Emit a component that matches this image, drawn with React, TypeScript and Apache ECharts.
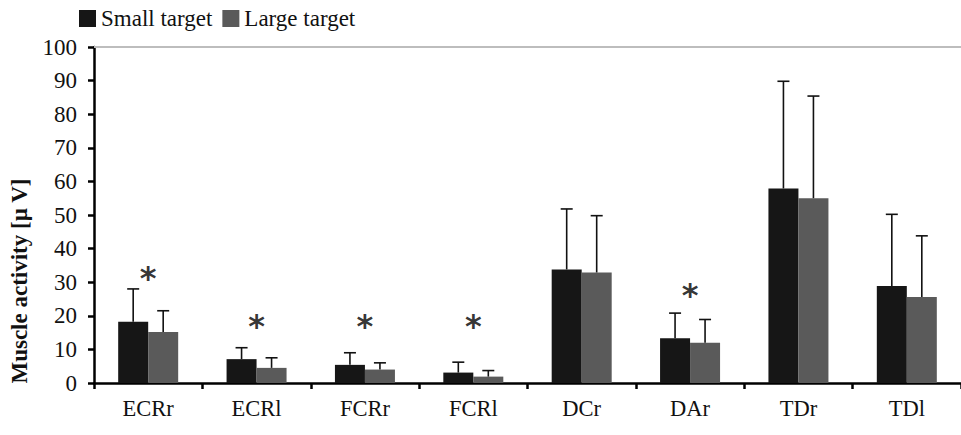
import React, { useEffect, useRef } from "react";
import * as echarts from "echarts";

const categories = ["ECRr", "ECRl", "FCRr", "FCRl", "DCr", "DAr", "TDr", "TDl"];
const smallMean = [18.2, 7.1, 5.4, 3.1, 33.8, 13.3, 57.9, 28.9];
const smallErrTop = [28, 10.5, 9, 6.2, 51.8, 20.8, 89.8, 50.2];
const largeMean = [15.2, 4.5, 4, 1.9, 32.9, 12, 55, 25.6];
const largeErrTop = [21.5, 7.5, 6, 3.7, 49.8, 18.9, 85.4, 43.8];
const starLevels: (number | null)[] = [31.3, 17, 17, 17, null, 26.2, null, null];
const yTicks = [0, 10, 20, 30, 40, 50, 60, 70, 80, 90, 100];

const SERIF = "'Liberation Serif', 'Times New Roman', serif";
const BAR_W = 30;

export default function App() {
  const ref = useRef<HTMLDivElement>(null);
  useEffect(() => {
    document.body.style.margin = "0";
    const chart = echarts.init(ref.current!, null, { renderer: "svg" });
    const errSeries = (name: string, mean: number[], top: number[], side: number) => ({
      type: "custom",
      name: name + " err",
      silent: true,
      z: 5,
      data: categories.map((_, i) => [i, mean[i], top[i]]),
      encode: { x: 0, y: [1, 2] },
      renderItem: (params: any, api: any) => {
        const idx = api.value(0);
        const base = api.coord([idx, api.value(1)]);
        const top = api.coord([idx, api.value(2)]);
        const x = base[0] + side * (BAR_W / 2);
        const style = { stroke: "#111", lineWidth: 1.6 };
        return {
          type: "group",
          children: [
            { type: "line", shape: { x1: x, y1: base[1], x2: x, y2: top[1] }, style },
            { type: "line", shape: { x1: x - 6, y1: top[1], x2: x + 6, y2: top[1] }, style },
          ],
        };
      },
    });
    chart.setOption({
      animation: false,
      grid: { left: 94, right: -2, top: 47, bottom: 52, containLabel: false },
      legend: {
        left: 74,
        top: 2,
        itemWidth: 17,
        itemHeight: 17,
        itemGap: 10,
        icon: "rect",
        textStyle: { fontFamily: SERIF, fontSize: 23, color: "#111" },
        data: ["Small target", "Large target"],
      },
      xAxis: {
        type: "category",
        data: categories,
        axisLine: { lineStyle: { color: "#000", width: 2.5 } },
        axisTick: { show: true, length: 6, lineStyle: { color: "#000", width: 2.5 } },
        axisLabel: { fontFamily: SERIF, fontSize: 22.5, color: "#111", margin: 14 },
      },
      yAxis: {
        type: "value",
        min: yTicks[0],
        max: yTicks[yTicks.length - 1],
        interval: 10,
        axisLine: { show: true, lineStyle: { color: "#000", width: 2.5 } },
        axisTick: { show: true, length: 6, lineStyle: { color: "#000", width: 2.5 } },
        splitLine: { show: false },
        axisLabel: { fontFamily: SERIF, fontSize: 23, color: "#111", margin: 17 },
      },
      graphic: [
        {
          type: "text",
          x: 19,
          y: 281,
          rotation: Math.PI / 2,
          style: {
            text: "Muscle activity [µ V]",
            fontFamily: SERIF,
            fontWeight: "bold",
            fontSize: 23,
            fill: "#111",
            align: "center",
            verticalAlign: "middle",
          },
        },
      ],
      series: [
        {
          type: "bar",
          name: "Small target",
          data: smallMean,
          barWidth: BAR_W,
          barGap: "0%",
          itemStyle: { color: "#161616" },
          markLine: {
            silent: true,
            symbol: "none",
            label: { show: false },
            lineStyle: { color: "#bdbdbd", type: "solid", width: 2 },
            data: [{ yAxis: 100 }],
          },
        },
        {
          type: "bar",
          name: "Large target",
          data: largeMean,
          barWidth: BAR_W,
          barGap: "0%",
          itemStyle: { color: "#5a5a5a" },
        },
        errSeries("Small target", smallMean, smallErrTop, -1),
        errSeries("Large target", largeMean, largeErrTop, 1),
        {
          type: "scatter",
          name: "sig",
          symbolSize: 0,
          z: 6,
          itemStyle: { color: "#000" },
          data: categories
            .map((c, i) => (starLevels[i] == null ? null : [i, starLevels[i]]))
            .filter((d) => d !== null),
          label: {
            show: true,
            position: "inside",
            formatter: "*",
            fontFamily: "'DejaVu Sans', sans-serif",
            fontWeight: "bold",
            fontSize: 32,
            color: "#000",
            textBorderWidth: 0,
            textBorderColor: "transparent",
          },
        },
      ],
    });
    return () => chart.dispose();
  }, []);
  return <div ref={ref} style={{ width: 961, height: 435 }} />;
}
